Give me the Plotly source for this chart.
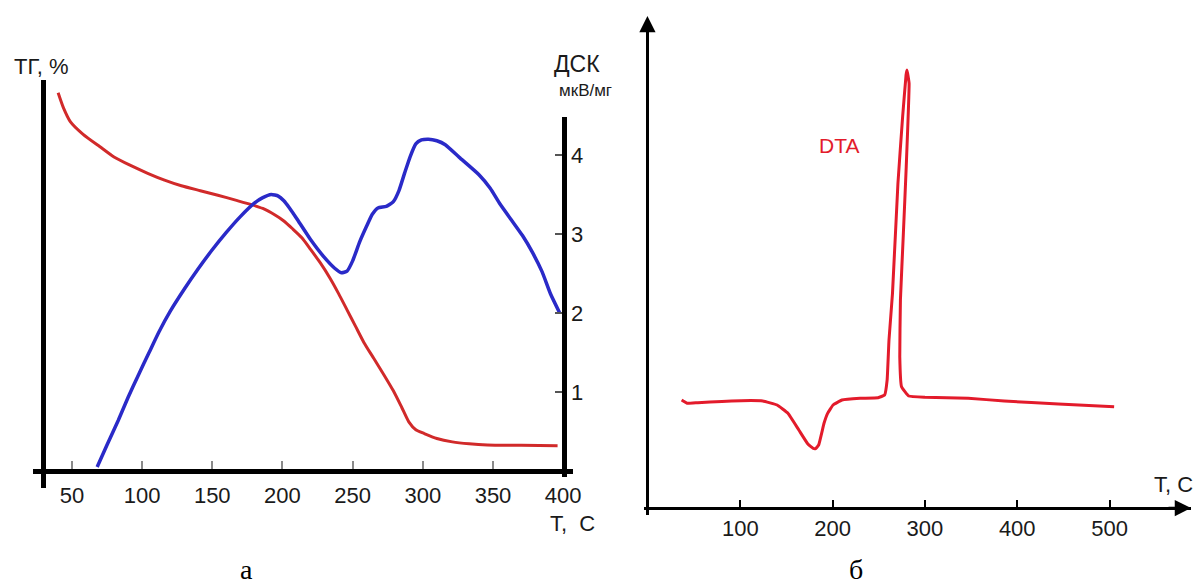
import plotly.graph_objects as go

W, H = 1199, 587

# ---------------- data ----------------
# Panel a: TG curve (%, no scale shown)
tg_T = [40.2, 44, 49, 58, 70, 80, 91, 104, 116, 128, 141.5, 154, 166.6, 178, 186, 195, 201,
        207, 214, 220, 227, 234, 240, 246, 252, 258, 265, 272, 279, 285, 290, 295, 301, 310,
        321, 333, 346, 370, 396]
tg_val = [100, 96, 92.3, 89, 85.7, 83, 80.9, 78.7, 76.9, 75.4, 74.1, 72.9, 71.6, 70.4, 69.4,
          67.6, 66.1, 64.1, 61.6, 58.6, 55.0, 50.9, 46.9, 42.6, 38.3, 34.0, 29.8, 25.6, 21.2,
          16.8, 13, 10.9, 9.9, 8.6, 7.7, 7.2, 6.9, 6.8, 6.7]

# Panel a: DSC curve (мкВ/мг)
dsc_T = [68, 75, 83, 90, 97, 105, 112, 120, 130, 140, 150, 160, 170, 180, 186, 192, 197, 201,
         205, 210, 220, 230, 237, 242, 246, 250, 255, 260, 264, 268, 274, 279, 283, 287, 291,
         295, 299, 304, 310, 316, 326, 340, 348, 355, 363, 371, 378, 385, 391, 397.5]
dsc_val = [0.05, 0.33, 0.64, 0.93, 1.2, 1.5, 1.76, 2.02, 2.3, 2.56, 2.8, 3.02, 3.22, 3.39,
           3.46, 3.50, 3.48, 3.42, 3.33, 3.2, 2.93, 2.7, 2.57, 2.51, 2.53, 2.66, 2.9, 3.1,
           3.25, 3.33, 3.35, 3.41, 3.55, 3.77, 3.98, 4.14, 4.19, 4.20, 4.18, 4.13, 3.97, 3.75,
           3.58, 3.38, 3.18, 2.98, 2.77, 2.52, 2.24, 2.0]

# Panel б: DTA curve (arbitrary units)
dta_T = [36.3, 38, 42.2, 53.9, 80, 100.8, 124.2, 139.8, 151.5, 163.3, 173.1, 178.9, 181.5,
         184.8, 190.6, 194.5, 200.4, 210.1, 229.7, 249.2, 256.3, 259, 261, 264.8, 270.7, 275.8,
         279.5, 280.5, 282.8, 279.7, 276.6, 273.4, 272.7, 274.6, 282.4, 300, 346.9, 385.9,
         444.6, 505]
dta_val = [10.8, 10.7, 10.47, 10.53, 10.65, 10.73, 10.7, 10.3, 9.47, 7.8, 6.4, 5.97, 5.95,
           6.3, 8.47, 9.47, 10.3, 10.8, 10.97, 11.03, 11.3, 12.8, 16.8, 21.47, 32.47, 39.13,
           43.3, 43.8, 42.47, 34.13, 27.47, 20.8, 15.13, 12.13, 11.2, 11.07, 10.97, 10.7,
           10.4, 10.13]

xa_ticks = [50, 100, 150, 200, 250, 300, 350, 400]
dsc_ticks = [1, 2, 3, 4]
xb_ticks = [100, 200, 300, 400, 500]

# ---------------- helpers ----------------
def px(x):
    return x / W

def py(y):
    return 1 - y / H

SANS = "Liberation Sans, Arial, sans-serif"
SERIF = "Liberation Serif, Times New Roman, serif"
TXT = "#1a1a1a"

fig = go.Figure()
fig.add_trace(go.Scatter(x=tg_T, y=tg_val, xaxis="x", yaxis="y", mode="lines",
                         line=dict(color="#d12a2a", width=3, shape="spline", smoothing=0.6),
                         showlegend=False, hoverinfo="skip"))
fig.add_trace(go.Scatter(x=dsc_T, y=dsc_val, xaxis="x", yaxis="y2", mode="lines",
                         line=dict(color="#2a2ac8", width=3.5, shape="spline", smoothing=0.5),
                         showlegend=False, hoverinfo="skip"))
fig.add_trace(go.Scatter(x=dta_T, y=dta_val, xaxis="x3", yaxis="y3", mode="lines",
                         line=dict(color="#e31b2b", width=3, shape="spline", smoothing=0.3),
                         showlegend=False, hoverinfo="skip"))

noaxis = dict(showgrid=False, zeroline=False)

fig.update_layout(
    width=W, height=H, margin=dict(l=0, r=0, t=0, b=0),
    paper_bgcolor="white", plot_bgcolor="rgba(0,0,0,0)",
    font=dict(family=SANS, color=TXT),
    xaxis=dict(**noaxis, domain=[px(32.8), px(577.3)], range=[22, 407.3],
               anchor="free", position=py(471),
               showline=True, linecolor="black", linewidth=5,
               ticks="inside", ticklen=8, tickwidth=2, tickcolor="#8a8a8a",
               tickvals=xa_ticks, ticktext=[str(v) for v in xa_ticks],
               tickfont=dict(size=22, family=SANS, color=TXT), ticklabelstandoff=3),
    yaxis=dict(**noaxis, domain=[py(488), py(80)], range=[-4.49, 103.36],
               anchor="free", position=px(43.5), side="left",
               showline=True, linecolor="black", linewidth=5,
               showticklabels=False, ticks=""),
    yaxis2=dict(**noaxis, domain=[py(477), py(117)], range=[-0.076, 4.481],
                anchor="free", position=px(567.5), side="right",
                showline=True, linecolor="black", linewidth=5,
                ticks="inside", ticklen=7, tickwidth=2, tickcolor="#555",
                tickvals=dsc_ticks, ticktext=[str(v) for v in dsc_ticks],
                tickfont=dict(size=22, family=SANS, color=TXT), ticklabelstandoff=0),
    xaxis3=dict(**noaxis, domain=[px(648), 1.0], range=[-4.84, 588.3],
                anchor="free", position=py(508),
                showline=True, linecolor="black", linewidth=2.5,
                ticks="inside", ticklen=7, tickwidth=1.5, tickcolor="black",
                tickvals=xb_ticks, ticktext=[str(v) for v in xb_ticks],
                tickfont=dict(size=22, family=SANS, color=TXT), ticklabelstandoff=0),
    yaxis3=dict(**noaxis, domain=[py(515), py(24)], range=[-0.7, 48.4],
                anchor="free", position=px(651.8), side="left",
                showline=True, linecolor="black", linewidth=2.5,
                showticklabels=False, ticks=""),
)

ann = [
    dict(text="ТГ, %", x=px(41), y=py(67), font=dict(size=22, family=SANS, color=TXT)),
    dict(text="ДСК", x=px(581), y=py(64), font=dict(size=23, family=SANS, color=TXT)),
    dict(text="мкВ/мг", x=px(589), y=py(90), font=dict(size=17, family=SANS, color=TXT)),
    dict(text="T,  C", x=px(576), y=py(523), font=dict(size=22, family=SANS, color=TXT)),
    dict(text="а", x=px(248), y=py(569), font=dict(size=28, family=SERIF, color="black")),
    dict(text="б", x=px(862), y=py(569), font=dict(size=28, family=SERIF, color="black")),
    dict(text="DTA", x=px(845), y=py(146), font=dict(size=21, family=SANS, color="#e31b2b")),
    dict(text="T, C", x=px(1160), y=py(484), xanchor="left",
         font=dict(size=22, family=SANS, color=TXT)),
]
for a in ann:
    a.setdefault("xanchor", "center")
    fig.add_annotation(xref="paper", yref="paper", showarrow=False, yanchor="middle", **a)

# arrow heads of panel б axes
fig.add_annotation(xref="paper", yref="paper", x=1.0, y=py(508), ax=-24, ay=0,
                   showarrow=True, arrowhead=2, arrowsize=1.3, arrowwidth=2.5,
                   arrowcolor="black", text="")
fig.add_annotation(xref="paper", yref="paper", x=px(651.8), y=py(16), ax=0, ay=24,
                   showarrow=True, arrowhead=2, arrowsize=1.3, arrowwidth=2.5,
                   arrowcolor="black", text="")

fig.write_html("out.html")
